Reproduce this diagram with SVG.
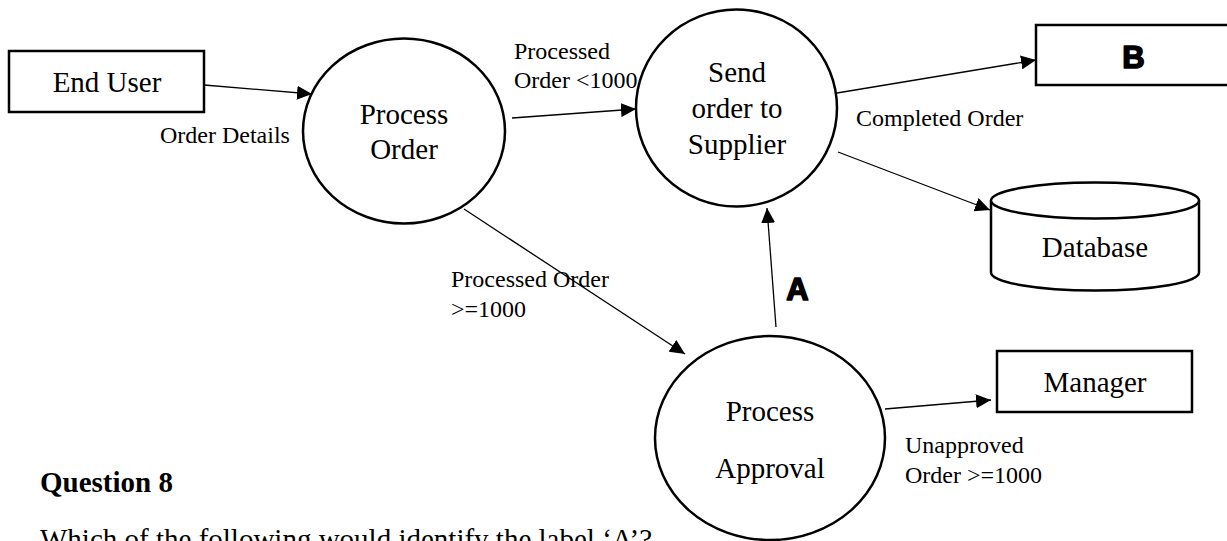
<svg xmlns="http://www.w3.org/2000/svg" width="1227" height="541" viewBox="0 0 1227 541">
<defs>
<style>
.shape{fill:#fff;stroke:#000;stroke-width:2.5}
.conn{fill:none;stroke:#000;stroke-width:1.3}
.big{font-family:"Liberation Serif","Times New Roman",serif;font-size:29px;fill:#000}
.lbl{font-family:"Liberation Serif","Times New Roman",serif;font-size:24px;fill:#000}
.mark{font-family:"Liberation Sans",Arial,sans-serif;font-size:31px;font-weight:bold;fill:#000;stroke:#000;stroke-width:1.6;stroke-linejoin:round}
.q{font-family:"Liberation Serif","Times New Roman",serif;font-size:29px;fill:#000}
</style>
<marker id="arr" markerUnits="userSpaceOnUse" markerWidth="16" markerHeight="14" refX="15" refY="7" orient="auto">
<path d="M0,0 L15,7 L0,14 z" fill="#000"/>
</marker>
</defs>
<rect width="1227" height="541" fill="#fff"/>

<g id="connectors">
<line class="conn" x1="204" y1="85" x2="312" y2="94" marker-end="url(#arr)"/>
<line class="conn" x1="512" y1="118" x2="636" y2="109" marker-end="url(#arr)"/>
<line class="conn" x1="464" y1="209" x2="685" y2="354" marker-end="url(#arr)"/>
<line class="conn" x1="837" y1="93" x2="1036" y2="60" marker-end="url(#arr)"/>
<line class="conn" x1="838" y1="152" x2="990" y2="210" marker-end="url(#arr)"/>
<line class="conn" x1="776" y1="327" x2="767" y2="208" marker-end="url(#arr)"/>
<line class="conn" x1="885" y1="409" x2="991" y2="400" marker-end="url(#arr)"/>
<text class="lbl" x="160" y="143">Order Details</text>
<text class="lbl" x="514" y="59">Processed</text>
<text class="lbl" x="514" y="88">Order &lt;1000</text>
<text class="lbl" x="856" y="126">Completed Order</text>
<text class="lbl" x="451" y="287">Processed Order</text>
<text class="lbl" x="451" y="317">&gt;=1000</text>
<text class="lbl" x="905" y="453">Unapproved</text>
<text class="lbl" x="905" y="483">Order &gt;=1000</text>
<text class="mark" x="797.5" y="300" text-anchor="middle">A</text>
</g>

<g id="end-user">
<rect class="shape" x="9" y="51" width="195" height="61"/>
<text class="big" x="107" y="92" text-anchor="middle">End User</text>
</g>

<g id="process-order">
<ellipse class="shape" cx="404" cy="131" rx="101" ry="92.5"/>
<text class="big" x="404" y="124" text-anchor="middle">Process</text>
<text class="big" x="404" y="159" text-anchor="middle">Order</text>
</g>

<g id="send-order">
<ellipse class="shape" cx="736.5" cy="108" rx="100.5" ry="98.5"/>
<text class="big" x="737" y="82" text-anchor="middle">Send</text>
<text class="big" x="737" y="118" text-anchor="middle">order to</text>
<text class="big" x="737" y="154" text-anchor="middle">Supplier</text>
</g>

<g id="b">
<rect class="shape" x="1036" y="25" width="210" height="60"/>
<text class="mark" x="1133.5" y="68" text-anchor="middle">B</text>
</g>

<g id="database">
<path class="shape" d="M991,200.5 L991,272.5 A104,18 0 0 0 1199,272.5 L1199,200.5"/>
<ellipse class="shape" cx="1095" cy="200.5" rx="104" ry="18"/>
<text class="big" x="1095" y="257" text-anchor="middle">Database</text>
</g>

<g id="process-approval">
<ellipse class="shape" cx="770" cy="438" rx="115" ry="102"/>
<text class="big" x="770" y="421" text-anchor="middle">Process</text>
<text class="big" x="770" y="478" text-anchor="middle">Approval</text>
</g>

<g id="manager">
<rect class="shape" x="997" y="351" width="195" height="61"/>
<text class="big" x="1095" y="392" text-anchor="middle">Manager</text>
</g>

<g id="question">
<text class="q" x="40" y="492" font-weight="bold">Question 8</text>
<text class="q" x="40" y="549">Which of the following would identify the label ‘A’?</text>
</g>
</svg>
